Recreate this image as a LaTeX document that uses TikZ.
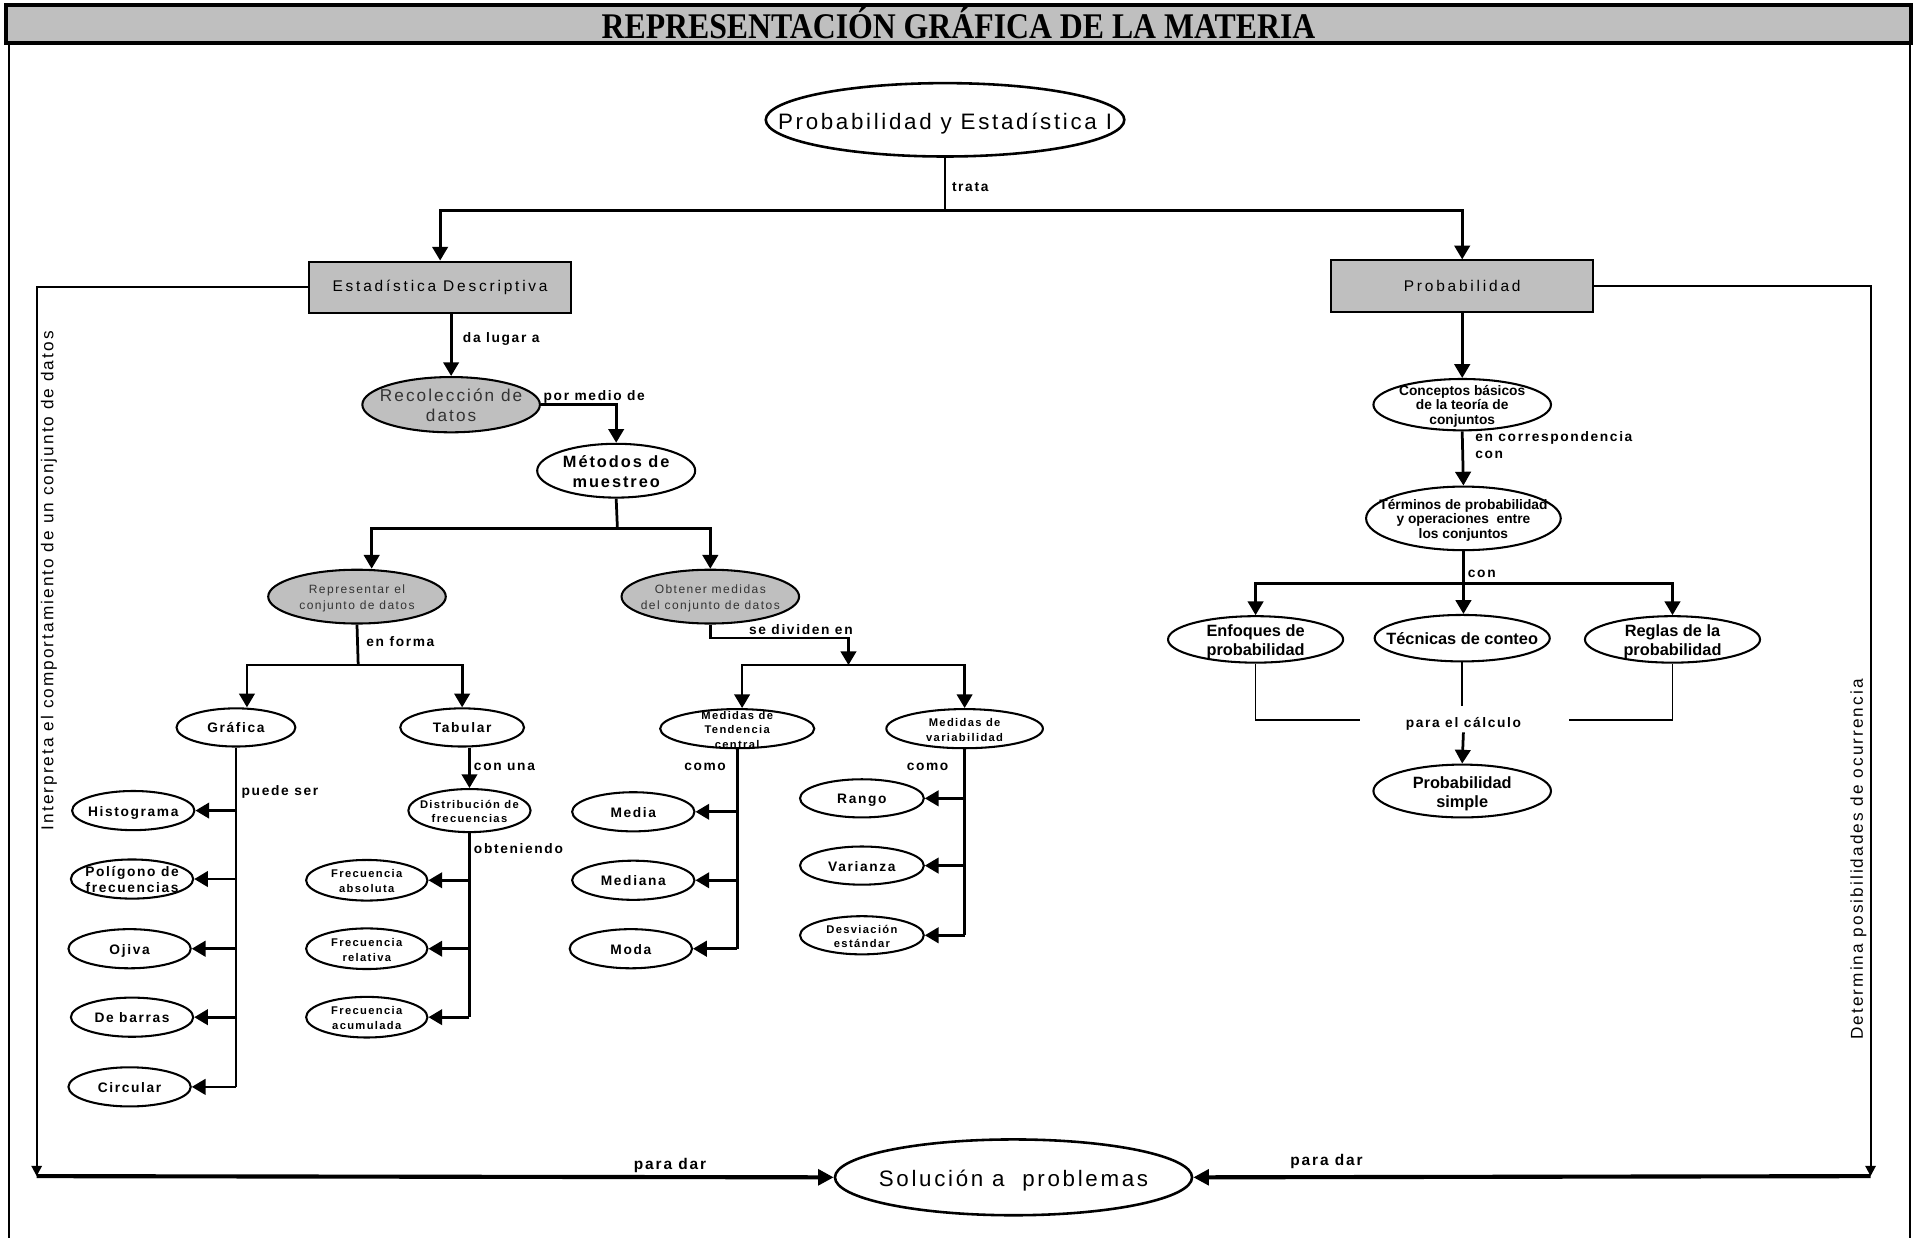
\documentclass[tikz,border=0pt]{standalone}
\usepackage{fontspec}
\setmainfont{Liberation Sans}
\newfontfamily\spacedfont[LetterSpace=12]{Liberation Sans}
\newfontfamily\widefont[LetterSpace=18]{Liberation Sans}
\newfontfamily\headfont[FakeStretch=0.88]{Liberation Serif}
\usepackage{tikz}
\usetikzlibrary{shapes.geometric, arrows.meta}
\usetikzlibrary{positioning, calc}
\newcommand{\inell}[1]{\makebox[0pt]{\smash{\raisebox{-0.42em}{\begin{tabular}{@{}c@{}}#1\end{tabular}}}}}
\tikzset{
    concept/.style = {ellipse, draw=black, line width=1.2pt, inner sep=0pt,
        font=\spacedfont\bfseries\fontsize{8}{9}\selectfont},
    leaf/.style = {concept, minimum width=2.5cm, minimum height=0.8cm},
    small/.style = {concept, font=\spacedfont\bfseries\fontsize{6.5}{8.5}\selectfont},
    setnode/.style = {concept, font=\bfseries\fontsize{8}{8.5}\selectfont},
    probnode/.style = {concept, minimum width=3.58cm, minimum height=0.95cm,
        font=\bfseries\fontsize{9.5}{11}\selectfont},
    shaded/.style = {concept, fill=black!25, text=black!80,
        font=\spacedfont\fontsize{7}{9.2}\selectfont},
    mainbox/.style = {rectangle, draw=black, line width=1.2pt, fill=black!25,
        minimum width=5.35cm, minimum height=1.05cm, font=\widefont\fontsize{9}{11}\selectfont},
    link/.style = {inner sep=1pt, font=\spacedfont\bfseries\fontsize{8}{9.5}\selectfont},
    conn/.style = {line width=1.6pt},
    thinconn/.style = {line width=1pt},
    arr/.style = {conn, -{Triangle[length=8pt,width=9pt]}},
    side/.style = {line width=1.2pt, -{Triangle[length=6pt,width=6pt]}},
    base/.style = {line width=2.4pt, -{Triangle[length=9pt,width=9pt]}},
}

\begin{document}
\begin{tikzpicture}[x=0.025cm, y=-0.025cm]
        \useasboundingbox (0,0) rectangle (1568,1013);
        \draw [line width=2pt, fill=black!25] (5,4) rectangle (1563,35);
        \draw [line width=1.2pt] (7,35) -- (7,1013) (1562,35) -- (1562,1013);
        \node [font=\headfont\bfseries\fontsize{21}{24}\selectfont] (title) at (784,19) {REPRESENTACIÓN GRÁFICA DE LA MATERIA};

        \node [concept, line width=1.5pt, minimum width=7.33cm, minimum height=1.5cm,
            font=\spacedfont\fontsize{13}{15}\selectfont] (root) at (773,98) {\inell{Probabilidad y Estadística I}};
        \node [mainbox] (ed) at (360,235) {Estadística Descriptiva};
        \node [mainbox] (pr) at (1196,234) {Probabilidad};

        \node [shaded, minimum width=3.63cm, minimum height=1.13cm,
            font=\spacedfont\fontsize{10}{11.3}\selectfont] (rec) at (369,331) {\inell{Recolección de\\datos}};
        \node [concept, minimum width=3.23cm, minimum height=1.1cm,
            font=\spacedfont\bfseries\fontsize{9.5}{11.3}\selectfont] (met) at (504,385) {\inell{Métodos de\\muestreo}};
        \node [shaded, minimum width=3.63cm, minimum height=1.1cm] (rep) at (292,488) {\inell{Representar el\\conjunto de datos}};
        \node [shaded, minimum width=3.63cm, minimum height=1.1cm] (obt) at (581,488) {\inell{Obtener medidas\\del conjunto de datos}};

        \node [leaf, minimum width=2.43cm, minimum height=0.78cm] (gra) at (193,595) {\inell{Gráfica}};
        \node [leaf, minimum width=2.53cm, minimum height=0.78cm] (tab) at (378,595) {\inell{Tabular}};
        \node [leaf] (his) at (109,663) {\inell{Histograma}};
        \node [leaf] (pol) at (108,719) {\inell{Polígono de\\frecuencias}};
        \node [leaf] (oji) at (106,776) {\inell{Ojiva}};
        \node [leaf] (bar) at (108,832) {\inell{De barras}};
        \node [leaf] (cir) at (106,889) {\inell{Circular}};

        \node [small, minimum width=2.5cm, minimum height=0.88cm] (dis) at (384,663) {\inell{Distribución de\\frecuencias}};
        \node [small, minimum width=2.48cm, minimum height=0.83cm] (fab) at (300,720) {\inell{Frecuencia\\absoluta}};
        \node [small, minimum width=2.48cm, minimum height=0.83cm] (fre) at (300,776) {\inell{Frecuencia\\relativa}};
        \node [small, minimum width=2.48cm, minimum height=0.83cm] (fac) at (300,832) {\inell{Frecuencia\\acumulada}};

        \node [small, minimum width=3.15cm, minimum height=0.8cm] (ten) at (603,596) {\inell{Medidas de\\Tendencia\\central}};
        \node [small, minimum width=3.2cm, minimum height=0.8cm] (var) at (789,596) {\inell{Medidas de\\variabilidad}};
        \node [leaf] (med) at (518,664) {\inell{Media}};
        \node [leaf] (mdn) at (518,720) {\inell{Mediana}};
        \node [leaf] (mod) at (516,776) {\inell{Moda}};
        \node [leaf, minimum width=2.53cm, minimum height=0.78cm] (ran) at (705,653) {\inell{Rango}};
        \node [leaf, minimum width=2.53cm, minimum height=0.78cm] (vza) at (705,708) {\inell{Varianza}};
        \node [small, minimum width=2.53cm, minimum height=0.78cm] (des) at (705,765) {\inell{Desviación\\estándar}};

        \node [setnode, minimum width=3.63cm, minimum height=1.05cm] (con) at (1196,331) {\inell{Conceptos básicos\\de la teoría de\\conjuntos}};
        \node [setnode, minimum width=3.98cm, minimum height=1.3cm] (ter) at (1197,424) {\inell{Términos de probabilidad\\y operaciones~ entre\\los conjuntos}};
        \node [probnode] (enf) at (1027,523) {\inell{Enfoques de\\probabilidad}};
        \node [probnode] (tec) at (1196,522) {\inell{Técnicas de conteo}};
        \node [probnode] (reg) at (1368,523) {\inell{Reglas de la\\probabilidad}};
        \node [probnode, minimum width=3.63cm, minimum height=1.08cm] (ps) at (1196,647) {\inell{Probabilidad\\simple}};

        \node [concept, line width=1.5pt, minimum width=7.3cm, minimum height=1.55cm,
            font=\spacedfont\fontsize{13}{15}\selectfont] (sol) at (829,963) {\inell{Solución a~ problemas}};

        \node [link, anchor=west] (l1) at (777,153) {trata};
        \node [link, anchor=west] (l2) at (377,277) {da lugar a};
        \node [link, anchor=west] (l3) at (443,325) {por medio de};
        \node [link, anchor=west] (l4) at (298,525) {en forma};
        \node [link, anchor=west] (l5) at (196,648) {puede ser};
        \node [link, anchor=west] (l6) at (386,627) {con una};
        \node [link, anchor=west] (l7) at (386,694) {obteniendo};
        \node [link, anchor=west] (l8) at (611,515) {se dividen en};
        \node [link, anchor=west] (l9) at (558,627) {como};
        \node [link, anchor=west] (l10) at (740,627) {como};
        \node [link, anchor=west, align=left] (l11) at (1205,364) {en correspondencia\\con};
        \node [link, anchor=west] (l12) at (1199,469) {con};
        \node [link] (pcalc) at (1197,592) {para el cálculo};
        \node [link, font=\spacedfont\bfseries\fontsize{9}{10}\selectfont] (l13) at (548,953) {para dar};
        \node [link, font=\spacedfont\bfseries\fontsize{9}{10}\selectfont] (l14) at (1085,950) {para dar};
        \node [rotate=90, font=\spacedfont\fontsize{10}{12}\selectfont] (interp) at (40,475) {Interpreta el comportamiento de un conjunto de datos};
        \node [rotate=90, font=\spacedfont\fontsize{10}{12}\selectfont] (deter) at (1520,703) {Determina posibilidades de ocurrencia};

        \coordinate (j1) at (773,172);
        \draw [conn] (root.south) -- (j1);
        \draw [arr] (j1) -| (ed.north);
        \draw [arr] (j1) -| (pr.north);
        \draw [arr] (ed.south -| rec.north) -- (rec.north);
        \draw [arr] (rec.east) -| (met.north);
        \coordinate (j2) at (505,432);
        \draw [conn] (met.south) -- (j2);
        \draw [arr] (j2) -| ($(rep.north)+(12,0)$);
        \draw [arr] (j2) -| (obt.north);
        \coordinate (j3) at (293,544);
        \draw [conn] (rep.south) -- (j3);
        \draw [arr] (j3) -| ($(gra.north)+(9,0)$);
        \draw [arr] (j3) -| (tab.north);
        \draw [conn] (gra.south) -- (gra.south |- cir.east);
        \foreach \leaf in {his,pol,oji,bar,cir}
            \draw [arr] (gra.south |- \leaf.east) -- (\leaf.east);
        \draw [arr] (tab.south -| dis.north) -- (dis.north);
        \draw [conn] (dis.south) -- (dis.south |- fac.east);
        \foreach \leaf in {fab,fre,fac}
            \draw [arr] (dis.south |- \leaf.east) -- (\leaf.east);
        \coordinate (j4) at (694,544);
        \draw [arr] (obt.south) -- ++(0,11) -| (j4);
        \draw [arr] (j4) -| ($(ten.north)+(4,0)$);
        \draw [arr] (j4) -| (var.north);
        \draw [conn] (ten.south) -- (ten.south |- mod.east);
        \foreach \leaf in {med,mdn,mod}
            \draw [arr] (ten.south |- \leaf.east) -- (\leaf.east);
        \draw [conn] (var.south) -- (var.south |- des.east);
        \foreach \leaf in {ran,vza,des}
            \draw [arr] (var.south |- \leaf.east) -- (\leaf.east);

        \draw [arr] (pr.south) -- (con.north);
        \draw [arr] (con.south) -- (ter.north);
        \coordinate (j5) at (1197,477);
        \draw [conn] (ter.south) -- (j5);
        \draw [arr] (j5) -| (enf.north);
        \draw [arr] (j5) -- (j5 |- tec.north);
        \draw [arr] (j5) -| (reg.north);
        \coordinate (jl) at (1112,589);
        \coordinate (jr) at (1283,589);
        \draw [thinconn] (enf.south) |- (jl);
        \draw [thinconn] (reg.south) |- (jr);
        \draw [thinconn] (tec.south) -- ++(0,36);
        \draw [arr] (pcalc.south) -- (ps.north);

        \coordinate (jbl) at (30,962);
        \coordinate (jbr) at (1530,962);
        \draw [side] (ed.west) -| (jbl);
        \draw [side] (pr.east) -| (jbr);
        \draw [base] (jbl) -- (sol.west);
        \draw [base] (jbr) -- (sol.east);
\end{tikzpicture}
\end{document}
